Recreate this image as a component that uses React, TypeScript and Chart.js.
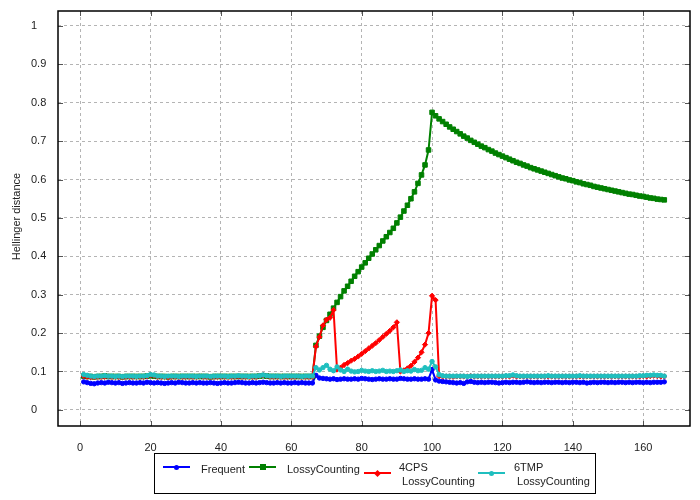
import { useEffect, useRef } from "react";
import { Chart, registerables } from "chart.js";

Chart.register(...registerables);

// Window index runs 1..N (one value per window)
const frequent = [
  0.073, 0.071, 0.069, 0.068, 0.070, 0.071, 0.070, 0.072, 0.071, 0.070,
  0.071, 0.069, 0.070, 0.071, 0.070, 0.070, 0.071, 0.070, 0.072, 0.071,
  0.070, 0.071, 0.070, 0.069, 0.070, 0.071, 0.070, 0.072, 0.071, 0.070,
  0.070, 0.071, 0.070, 0.071, 0.070, 0.070, 0.071, 0.070, 0.069, 0.070,
  0.071, 0.070, 0.070, 0.071, 0.072, 0.071, 0.070, 0.070, 0.071, 0.070,
  0.071, 0.072, 0.071, 0.070, 0.070, 0.071, 0.070, 0.071, 0.070, 0.070,
  0.071, 0.070, 0.071, 0.070, 0.070, 0.070,
  0.090, 0.083, 0.082, 0.081,
  0.080, 0.081, 0.079, 0.080, 0.081, 0.080, 0.080, 0.081, 0.080, 0.082,
  0.081, 0.080, 0.079, 0.080, 0.081, 0.080, 0.080, 0.081, 0.080, 0.080,
  0.082, 0.081, 0.080, 0.080, 0.081, 0.080, 0.080, 0.081, 0.080, 0.105,
  0.078, 0.075, 0.074, 0.073, 0.072, 0.071, 0.070, 0.071, 0.069, 0.073,
  0.074, 0.072, 0.071, 0.072, 0.071, 0.072, 0.072, 0.071, 0.070, 0.071,
  0.072, 0.071, 0.072, 0.072, 0.071, 0.072, 0.073, 0.072, 0.071, 0.072,
  0.071, 0.072, 0.072, 0.071, 0.072, 0.072, 0.071, 0.072, 0.071, 0.072,
  0.072, 0.071, 0.072, 0.070, 0.071, 0.072, 0.071, 0.072, 0.072, 0.071,
  0.072, 0.071, 0.072, 0.072, 0.071, 0.072, 0.071, 0.072, 0.072, 0.071,
  0.072, 0.071, 0.072, 0.072, 0.072, 0.073,
];

const lossyCounting = [
  0.088, 0.087, 0.087, 0.086, 0.087, 0.087, 0.088, 0.087, 0.087, 0.087,
  0.087, 0.086, 0.087, 0.087, 0.087, 0.087, 0.087, 0.087, 0.088, 0.089,
  0.088, 0.087, 0.087, 0.087, 0.086, 0.087, 0.087, 0.087, 0.087, 0.087,
  0.087, 0.087, 0.087, 0.087, 0.087, 0.087, 0.086, 0.087, 0.087, 0.087,
  0.087, 0.087, 0.087, 0.087, 0.087, 0.087, 0.087, 0.087, 0.087, 0.087,
  0.088, 0.089, 0.088, 0.087, 0.087, 0.087, 0.087, 0.087, 0.087, 0.087,
  0.087, 0.087, 0.087, 0.087, 0.087, 0.087,
  0.168, 0.192, 0.215, 0.233, 0.249, 0.265,
  0.280, 0.295, 0.310, 0.322, 0.335, 0.348, 0.360, 0.372,
  0.383, 0.395, 0.406, 0.417, 0.428, 0.440, 0.451, 0.462, 0.473, 0.487,
  0.502, 0.518, 0.533, 0.550, 0.568, 0.590, 0.612, 0.638, 0.677, 0.775,
  0.766, 0.758, 0.751, 0.744, 0.737, 0.731, 0.725, 0.719, 0.713, 0.708,
  0.702, 0.697, 0.692, 0.687, 0.683, 0.678, 0.674, 0.669, 0.665, 0.661,
  0.657, 0.653, 0.649, 0.645, 0.642, 0.638, 0.635, 0.631, 0.628, 0.625,
  0.622, 0.619, 0.616, 0.613, 0.610, 0.607, 0.604, 0.602, 0.599, 0.597,
  0.594, 0.592, 0.589, 0.587, 0.585, 0.582, 0.580, 0.578, 0.576, 0.574,
  0.572, 0.570, 0.568, 0.566, 0.564, 0.562, 0.561, 0.559, 0.557, 0.556,
  0.554, 0.552, 0.551, 0.549, 0.548, 0.547,
];

const cps4Lossy = [
  0.088, 0.086, 0.085, 0.085, 0.086, 0.086, 0.086, 0.087, 0.086, 0.086,
  0.086, 0.085, 0.086, 0.086, 0.086, 0.086, 0.086, 0.086, 0.087, 0.090,
  0.089, 0.086, 0.086, 0.086, 0.085, 0.086, 0.086, 0.086, 0.086, 0.086,
  0.086, 0.086, 0.086, 0.087, 0.086, 0.086, 0.085, 0.086, 0.086, 0.086,
  0.086, 0.086, 0.086, 0.086, 0.087, 0.086, 0.086, 0.086, 0.086, 0.086,
  0.088, 0.090, 0.088, 0.086, 0.086, 0.086, 0.086, 0.086, 0.086, 0.086,
  0.086, 0.087, 0.086, 0.086, 0.086, 0.086,
  0.165, 0.190, 0.220, 0.235, 0.240, 0.260,
  0.105, 0.110, 0.117, 0.122, 0.128, 0.133, 0.139, 0.146,
  0.153, 0.160, 0.167, 0.174, 0.182, 0.190, 0.198, 0.206, 0.215, 0.228,
  0.100, 0.103, 0.108, 0.115, 0.125, 0.136, 0.150, 0.170, 0.200, 0.297,
  0.286, 0.088,
  0.087, 0.087, 0.087, 0.086, 0.087, 0.087, 0.087, 0.087, 0.088, 0.087,
  0.087, 0.087, 0.087, 0.087, 0.087, 0.087, 0.087, 0.087, 0.088, 0.087,
  0.089, 0.087, 0.087, 0.087, 0.087, 0.087, 0.087, 0.087, 0.087, 0.087,
  0.087, 0.087, 0.087, 0.087, 0.087, 0.087, 0.087, 0.087, 0.087, 0.087,
  0.087, 0.087, 0.087, 0.087, 0.087, 0.087, 0.087, 0.087, 0.087, 0.087,
  0.087, 0.087, 0.087, 0.087, 0.087, 0.087, 0.087, 0.088, 0.087, 0.088,
  0.089, 0.088, 0.087, 0.087,
];

const tmp6Lossy = [
  0.092, 0.090, 0.088, 0.087, 0.088, 0.088, 0.089, 0.088, 0.088, 0.087,
  0.088, 0.087, 0.088, 0.088, 0.088, 0.087, 0.088, 0.088, 0.089, 0.092,
  0.091, 0.088, 0.088, 0.087, 0.088, 0.088, 0.088, 0.087, 0.088, 0.088,
  0.088, 0.088, 0.087, 0.088, 0.088, 0.088, 0.087, 0.088, 0.088, 0.088,
  0.088, 0.087, 0.088, 0.088, 0.089, 0.088, 0.088, 0.087, 0.088, 0.088,
  0.089, 0.091, 0.089, 0.088, 0.088, 0.088, 0.087, 0.088, 0.088, 0.088,
  0.088, 0.088, 0.087, 0.088, 0.088, 0.088,
  0.110, 0.104, 0.110, 0.116, 0.106, 0.102, 0.112, 0.104, 0.100, 0.106,
  0.101, 0.099, 0.100, 0.103, 0.101, 0.100, 0.102, 0.100, 0.101, 0.103,
  0.100, 0.101, 0.100, 0.102, 0.104, 0.100, 0.102, 0.101, 0.105, 0.102,
  0.103, 0.110, 0.106, 0.126,
  0.112, 0.092,
  0.089, 0.088, 0.088, 0.088, 0.088, 0.088, 0.088, 0.087, 0.088, 0.088,
  0.088, 0.088, 0.088, 0.088, 0.088, 0.088, 0.088, 0.088, 0.089, 0.089,
  0.091, 0.089, 0.088, 0.088, 0.088, 0.088, 0.088, 0.088, 0.088, 0.088,
  0.089, 0.088, 0.088, 0.088, 0.088, 0.088, 0.088, 0.088, 0.088, 0.089,
  0.088, 0.088, 0.088, 0.088, 0.088, 0.088, 0.088, 0.088, 0.088, 0.088,
  0.088, 0.088, 0.088, 0.088, 0.088, 0.088, 0.089, 0.089, 0.090, 0.090,
  0.091, 0.090, 0.090, 0.088,
];

const xTickValues = [0, 20, 40, 60, 80, 100, 120, 140, 160];
const yTickValues = [0, 0.1, 0.2, 0.3, 0.4, 0.5, 0.6, 0.7, 0.8, 0.9, 1];
const yAxisTitle = "Hellinger distance";
const seriesNames = ["Frequent", "LossyCounting", "4CPS\n LossyCounting", "6TMP\n LossyCounting"];

const FONT = '"Liberation Sans", Arial, Helvetica, sans-serif';
const COLORS = ["#0000ff", "#008000", "#ff0000", "#1fbfbf"];

function LegendMarker({ kind, color, cx, cy }: { kind: string; color: string; cx: number; cy: number }) {
  const size = kind === "rect" ? 6 : 5;
  const style: any = {
    position: "absolute",
    left: cx - size / 2,
    top: cy - size / 2,
    width: size,
    height: size,
    background: color,
  };
  if (kind === "circle") style.borderRadius = "50%";
  if (kind === "rectRot") style.transform = "rotate(45deg)";
  return <div style={style} />;
}

export default function App() {
  const ref = useRef<HTMLCanvasElement>(null);

  useEffect(() => {
    if (!ref.current) return;
    const toPoints = (arr: number[]) => arr.map((v, i) => ({ x: i + 1, y: v }));

    const framePlugin = {
      id: "frameAndTicks",
      beforeDatasetsDraw(chart: any) {
        const { ctx, chartArea, scales } = chart;
        const { left, right, top, bottom } = chartArea;
        ctx.save();
        ctx.strokeStyle = "#555";
        ctx.lineWidth = 1;
        ctx.beginPath();
        for (const t of xTickValues) {
          const px = Math.round(scales.x.getPixelForValue(t)) + 0.5;
          ctx.moveTo(px, bottom);
          ctx.lineTo(px, bottom - 5);
          ctx.moveTo(px, top);
          ctx.lineTo(px, top + 5);
        }
        for (const t of yTickValues) {
          const py = Math.round(scales.y.getPixelForValue(t)) + 0.5;
          ctx.moveTo(left, py);
          ctx.lineTo(left + 5, py);
          ctx.moveTo(right, py);
          ctx.lineTo(right - 5, py);
        }
        ctx.stroke();
        ctx.restore();
      },
      afterDraw(chart: any) {
        const { ctx, chartArea } = chart;
        const { left, right, top, bottom } = chartArea;
        ctx.save();
        ctx.strokeStyle = "#000";
        ctx.lineWidth = 1.5;
        ctx.strokeRect(left, top, right - left, bottom - top);
        ctx.translate(17, (top + bottom) / 2 - 2);
        ctx.rotate(-Math.PI / 2);
        ctx.fillStyle = "#222";
        ctx.font = `11px ${FONT}`;
        ctx.textAlign = "center";
        ctx.textBaseline = "middle";
        ctx.fillText(yAxisTitle, 0, 0);
        ctx.restore();
      },
    };

    const mkDs = (label: string, arr: number[], color: string, style: string, radius: number, order: number) => ({
      label,
      data: toPoints(arr),
      borderColor: color,
      backgroundColor: color,
      pointBackgroundColor: color,
      pointBorderColor: color,
      pointStyle: style,
      pointRadius: radius,
      pointBorderWidth: 1,
      borderWidth: 2,
      tension: 0,
      order,
    });

    const chart = new Chart(ref.current, {
      type: "line",
      data: {
        datasets: [
          mkDs(seriesNames[0], frequent, COLORS[0], "circle", 2.2, 4),
          mkDs(seriesNames[1], lossyCounting, COLORS[1], "rect", 3.2, 3),
          mkDs(seriesNames[2], cps4Lossy, COLORS[2], "rectRot", 2.6, 2),
          mkDs(seriesNames[3], tmp6Lossy, COLORS[3], "circle", 2.2, 1),
        ] as any,
      },
      options: {
        responsive: false,
        animation: false,
        events: [],
        layout: { padding: { left: 31, right: 10, top: 11, bottom: 0 } },
        plugins: {
          legend: { display: false },
          tooltip: { enabled: false },
        },
        scales: {
          x: {
            type: "linear",
            min: -6.3,
            max: 173.3,
            afterBuildTicks: (s: any) => {
              s.ticks = xTickValues.map((v) => ({ value: v }));
            },
            afterFit: (s: any) => {
              s.height = 74;
            },
            grid: { color: "#b4b4b4", lineWidth: 1, drawTicks: false },
            border: { display: false, dash: [3, 3] },
            ticks: {
              padding: 15,
              maxRotation: 0,
              autoSkip: false,
              color: "#222",
              font: { family: FONT, size: 11 },
              callback: (v: any) => String(v),
            },
          },
          y: {
            type: "linear",
            min: -0.042,
            max: 1.039,
            afterBuildTicks: (s: any) => {
              s.ticks = yTickValues.map((v) => ({ value: v }));
            },
            afterFit: (s: any) => {
              s.width = 27;
            },
            grid: { color: "#b4b4b4", lineWidth: 1, drawTicks: false },
            border: { display: false, dash: [3, 3] },
            ticks: {
              padding: 0,
              crossAlign: "far",
              autoSkip: false,
              color: "#222",
              font: { family: FONT, size: 11 },
              callback: (v: any) => String(Math.round(Number(v) * 10) / 10),
            },
          },
        },
      },
      plugins: [framePlugin],
    } as any);

    return () => chart.destroy();
  }, []);

  const textStyle: any = {
    position: "absolute",
    fontFamily: FONT,
    fontSize: 11,
    lineHeight: "14px",
    whiteSpace: "pre",
    color: "#222",
  };
  const lineStyle = (left: number, cy: number, color: string): any => ({
    position: "absolute",
    left,
    top: cy - 1,
    width: 27,
    height: 2,
    background: color,
  });

  return (
    <div style={{ position: "absolute", left: 0, top: 0, width: 700, height: 500, background: "#fff" }}>
      <canvas ref={ref} width={700} height={500} style={{ position: "absolute", left: 0, top: 0 }} />
      <div
        style={{
          position: "absolute",
          left: 154,
          top: 453,
          width: 442,
          height: 41,
          border: "1px solid #000",
          boxSizing: "border-box",
        }}
      />
      <div style={lineStyle(163, 467, COLORS[0])} />
      <LegendMarker kind="circle" color={COLORS[0]} cx={176.5} cy={467} />
      <span style={{ ...textStyle, left: 201, top: 462 }}>{seriesNames[0]}</span>

      <div style={lineStyle(249, 467, COLORS[1])} />
      <LegendMarker kind="rect" color={COLORS[1]} cx={262.5} cy={467} />
      <span style={{ ...textStyle, left: 287, top: 462 }}>{seriesNames[1]}</span>

      <div style={lineStyle(364, 473, COLORS[2])} />
      <LegendMarker kind="rectRot" color={COLORS[2]} cx={377.5} cy={473} />
      <span style={{ ...textStyle, left: 399, top: 460 }}>{seriesNames[2]}</span>

      <div style={lineStyle(478, 473, COLORS[3])} />
      <LegendMarker kind="circle" color={COLORS[3]} cx={491.5} cy={473} />
      <span style={{ ...textStyle, left: 514, top: 460 }}>{seriesNames[3]}</span>
    </div>
  );
}
